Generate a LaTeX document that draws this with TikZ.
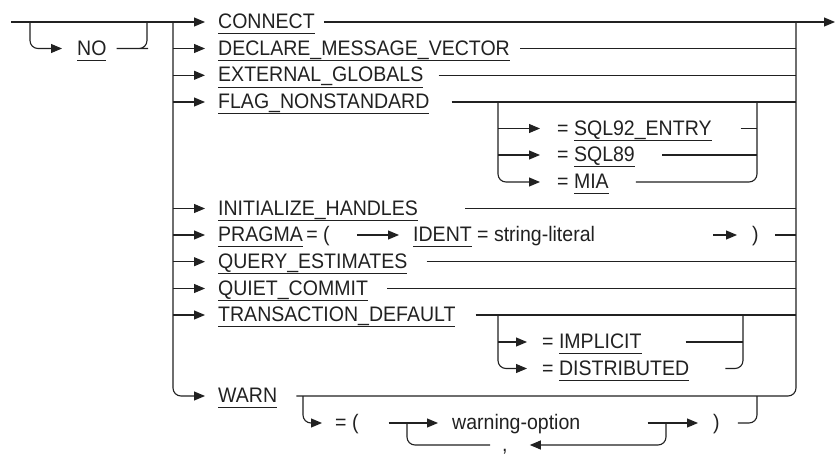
\documentclass[tikz,border=0pt]{standalone}
\usepackage{fontspec}
\setmainfont{Liberation Sans}[FakeStretch=0.93]
\usetikzlibrary{arrows.meta}
\definecolor{ink}{gray}{0.13}
\newsavebox\kwb
\newcommand\kw[1]{\sbox\kwb{#1}\rlap{\color{ink}\rule[-5.8pt]{\wd\kwb}{0.9pt}}\usebox\kwb}
\tikzset{
  rr/.style={line width=1.1pt, draw=ink, rounded corners=8pt},
  arr/.style={rr, -{Triangle[length=11pt,width=9pt]}},
  txt/.style={anchor=west, inner sep=0pt, text height=13pt, text depth=0pt,
    text=ink, font=\fontsize{21}{24}\selectfont},
}
\begin{document}
\begin{tikzpicture}[x=1pt,y=-1pt]
\useasboundingbox (0,0) rectangle (835,455);
% junction coordinates
\coordinate (S) at (11,22);
\coordinate (L) at (173,22);
\coordinate (R) at (796,22);
\coordinate (E) at (835,22);
% text nodes
\node[txt] (no) at (77,48.5) {\kw{NO}};
\node[txt] (connect) at (218,22) {\kw{CONNECT}};
\node[txt] (decl) at (218,48.5) {\kw{DECLARE\_MESSAGE\_VECTOR}};
\node[txt] (ext) at (218,75.3) {\kw{EXTERNAL\_GLOBALS}};
\node[txt] (flag) at (218,102) {\kw{FLAG\_NONSTANDARD}};
\node[txt] (sqlA) at (557,128.5) {= \kw{SQL92\_ENTRY}};
\node[txt] (sqlB) at (557,155) {= \kw{SQL89}};
\node[txt] (mia) at (557,182) {= \kw{MIA}};
\node[txt] (init) at (218,208.5) {\kw{INITIALIZE\_HANDLES}};
\node[txt] (prag) at (218,235) {\kw{PRAGMA}\hspace{-2pt} = (};
\node[txt] (ident) at (413,235) {\kw{IDENT} = string-literal};
\node[txt] (pclose) at (752,235) {)};
\node[txt] (query) at (218,261.7) {\kw{QUERY\_ESTIMATES}};
\node[txt] (quiet) at (218,288.5) {\kw{QUIET\_COMMIT}};
\node[txt] (trans) at (218,315) {\kw{TRANSACTION\_DEFAULT}};
\node[txt] (impl) at (542,342) {= \kw{IMPLICIT}};
\node[txt] (dist) at (542,368.5) {= \kw{DISTRIBUTED}};
\node[txt] (warn) at (218,396) {\kw{WARN}};
\node[txt] (wopen) at (335,423) {= (};
\node[txt] (wopt) at (452,423) {warning-option};
\node[txt] (wclose) at (713,423) {)};
\node[txt] (comma) at (502,445) {,};
% NO bypass
\coordinate (n1) at (30,22);
\coordinate (n2) at (147,22);
\draw[rr] (S) -- (L);
\draw[arr, shorten >=15pt] (n1) |- (no.west);
\draw[rr] ([xshift=10pt]no.east) -- (140,48.5) -| (n2);
% main branches
\draw[arr, shorten >=13pt] (L) -- (connect.west);
\draw[arr] ([xshift=9pt]connect.east) -- (E);
\foreach \n in {decl,ext,flag,init,prag,query,quiet,trans}{
  \draw[arr, shorten >=13pt] (L |- \n.west) -- (\n.west);
}
\draw[arr, shorten >=13pt] (L) |- (warn.west);
% right collector
\draw[rr] ([xshift=19pt]warn.east) -| (R);
\draw[rr] ([xshift=10pt]decl.east) -- (R |- decl.east);
\draw[rr] ([xshift=15pt]ext.east) -- (R |- ext.east);
\draw[rr] ([xshift=22pt]flag.east) -- (R |- flag.east);
\draw[rr] ([xshift=47pt]init.east) -- (R |- init.east);
\draw[rr] ([xshift=19pt]query.east) -- (R |- query.east);
\draw[rr] ([xshift=19pt]quiet.east) -- (R |- quiet.east);
\draw[rr] ([xshift=20pt]trans.east) -- (R |- trans.east);
% FLAG_NONSTANDARD options
\coordinate (fa) at (498,102);
\coordinate (fb) at (757,102);
\draw[arr, shorten >=17pt] (fa) |- (mia.west);
\draw[arr, shorten >=17pt] (fa |- sqlA.west) -- (sqlA.west);
\draw[arr, shorten >=17pt] (fa |- sqlB.west) -- (sqlB.west);
\draw[rr] ([xshift=29pt]sqlA.east) -- (fb |- sqlA.east);
\draw[rr] ([xshift=27pt]sqlB.east) -- (fb |- sqlB.east);
\draw[rr] ([xshift=27pt]mia.east) -| (fb);
% PRAGMA
\draw[arr] ([xshift=27pt]prag.east) -- ([xshift=-14pt]ident.west);
\draw[arr] ([xshift=118pt]ident.east) -- ([xshift=-15pt]pclose.west);
\draw[rr] ([xshift=16pt]pclose.east) -- (R |- pclose.east);
% TRANSACTION_DEFAULT options
\coordinate (ta) at (498,315);
\coordinate (tb) at (743,315);
\draw[arr, shorten >=15pt] (ta) |- (dist.west);
\draw[arr, shorten >=15pt] (ta |- impl.west) -- (impl.west);
\draw[rr] ([xshift=44pt]impl.east) -- (tb |- impl.east);
\draw[rr] ([xshift=36pt]dist.east) -| (tb);
% WARN options
\coordinate (wa) at (303,396);
\coordinate (wb) at (757,396);
\coordinate (la) at (407,423);
\coordinate (lb) at (666,423);
\draw[arr, shorten >=13pt] (wa) |- (wopen.west);
\draw[arr, shorten >=14pt] ([xshift=30pt]wopen.east) -- (wopt.west);
\draw[arr] ([xshift=67pt]wopt.east) -- ([xshift=-15pt]wclose.west);
\draw[rr] ([xshift=18pt]wclose.east) -| (wb);
\draw[rr] (la) |- ([xshift=-12pt]comma.west);
\draw[arr] (lb) |- ([xshift=22pt]comma.east);
\end{tikzpicture}
\end{document}
